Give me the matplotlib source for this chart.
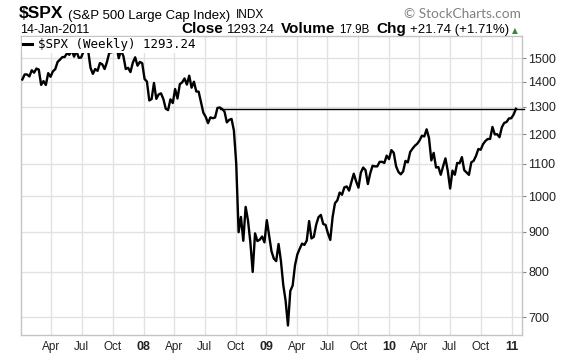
import matplotlib
matplotlib.use('Agg')
import matplotlib.pyplot as plt
import pandas as pd
from matplotlib.ticker import FixedLocator, NullLocator

# ---------------- data (weekly closes) ----------------
start_date = '2007-01-05'
close_2007 = [1409.7, 1430.7, 1430.5, 1422.2, 1448.4, 1438.1, 1455.5, 1451.2, 1387.2, 1402.8,
              1386.9, 1436.1, 1420.9, 1443.8, 1452.9, 1484.4, 1494.1, 1505.6, 1505.9, 1522.8,
              1515.7, 1536.3, 1507.7, 1532.9, 1502.6, 1503.4, 1530.4, 1552.5, 1534.1, 1458.9,
              1433.1, 1453.6, 1445.9, 1479.4, 1473.9, 1453.6, 1484.2, 1525.8, 1526.8, 1557.6,
              1561.8, 1500.6, 1535.3, 1509.7, 1453.7, 1458.7, 1440.7, 1481.1, 1504.7, 1467.9,
              1484.5, 1478.5]
close_2008 = [1411.6, 1401.0, 1325.2, 1330.6, 1395.4, 1331.3, 1349.0, 1353.1, 1330.6, 1293.4,
              1288.1, 1329.5, 1315.2, 1370.4, 1332.8, 1390.3, 1397.8, 1413.9, 1388.3, 1425.4,
              1375.9, 1400.4, 1360.7, 1360.0, 1317.9, 1278.4, 1262.9, 1239.5, 1260.7, 1257.8,
              1260.3, 1296.3, 1298.2, 1292.2, 1282.8, 1242.3, 1251.7, 1255.1, 1213.3, 1099.2,
              899.2, 940.6, 876.8, 968.8, 930.9, 873.3, 800.0, 896.2, 876.1, 879.7,
              887.9, 872.8]
close_2009 = [931.8, 890.4, 850.1, 832.0, 825.9, 868.6, 826.8, 770.1, 735.1, 683.4,
              756.6, 768.5, 815.9, 842.5, 856.6, 869.6, 866.2, 877.5, 929.2, 882.9,
              887.0, 919.1, 940.1, 946.2, 921.2, 918.9, 896.4, 879.1, 940.4, 979.3,
              987.5, 1010.5, 1004.1, 1026.1, 1028.9, 1016.4, 1042.7, 1068.3, 1044.4, 1025.2,
              1071.5, 1087.7, 1079.6, 1036.2, 1069.3, 1093.5, 1091.4, 1091.5, 1106.0, 1106.4,
              1102.5, 1126.5, 1115.1]
close_2010 = [1145.0, 1136.0, 1091.8, 1073.9, 1066.2, 1075.5, 1109.2, 1104.5, 1138.7, 1150.0,
              1159.9, 1166.6, 1178.1, 1194.4, 1192.1, 1217.3, 1186.7, 1110.9, 1135.7, 1087.7,
              1089.4, 1064.9, 1091.6, 1117.5, 1076.8, 1022.6, 1078.0, 1064.9, 1102.7, 1101.6,
              1121.6, 1079.3, 1071.7, 1064.6, 1104.5, 1109.6, 1125.6, 1148.7, 1146.2, 1165.2,
              1176.2, 1183.1, 1183.3, 1225.9, 1199.2, 1199.7, 1189.4, 1224.7, 1240.4, 1243.9,
              1256.8, 1257.6]
close_2011 = [1271.5, 1293.24]

last_close = 1293.24
resistance_start = '2008-08-15'

y_ticks = [700, 800, 900, 1000, 1100, 1200, 1300, 1400, 1500]
x_tick_dates = ['2007-04-01', '2007-07-01', '2007-10-01', '2008-01-01',
                '2008-04-01', '2008-07-01', '2008-10-01', '2009-01-01',
                '2009-04-01', '2009-07-01', '2009-10-01', '2010-01-01',
                '2010-04-01', '2010-07-01', '2010-10-01', '2011-01-01']
x_tick_labels = ['Apr', 'Jul', 'Oct', '08', 'Apr', 'Jul', 'Oct', '09',
                 'Apr', 'Jul', 'Oct', '10', 'Apr', 'Jul', 'Oct', '11']
year_labels = {'08', '09', '10', '11'}

# ---------------- figure ----------------
values = close_2007 + close_2008 + close_2009 + close_2010 + close_2011
dates = pd.date_range(start_date, periods=len(values), freq='7D')

W, H = 577, 357
fig = plt.figure(figsize=(W / 100, H / 100), dpi=100)
ax = fig.add_axes([21 / W, 1 - 335 / H, (522 - 21) / W, (335 - 36) / H])

ax.set_yscale('log')
ax.set_ylim(664.5, 1602)
ax.set_xlim(pd.Timestamp('2007-01-01'), pd.Timestamp('2011-02-01'))

ax.plot(dates, values, color='black', lw=1.7, solid_joinstyle='round', zorder=3,
        label=r'\$SPX (Weekly) 1293.24')
ax.plot([pd.Timestamp(resistance_start), pd.Timestamp('2011-02-06')],
        [last_close, last_close], color='black', lw=1.0, zorder=3, clip_on=False)

# axes styling
ax.yaxis.set_major_locator(FixedLocator(y_ticks))
ax.yaxis.set_minor_locator(NullLocator())
ax.set_yticklabels([str(v) for v in y_ticks])
ax.yaxis.tick_right()
ax.tick_params(axis='y', which='major', length=3, width=0.8, color='#888888',
               pad=1.5, labelsize=9, labelcolor='#222222')

ax.set_xticks([pd.Timestamp(d) for d in x_tick_dates])
ax.set_xticklabels(x_tick_labels)
ax.xaxis.set_minor_locator(NullLocator())
ax.tick_params(axis='x', length=0, pad=4, labelsize=8.5, labelcolor='#222222')
for lab in ax.get_xticklabels():
    lab.set_fontfamily('Liberation Sans')
    if lab.get_text() in year_labels:
        lab.set_fontweight('bold')
        lab.set_fontsize(9)
for lab in ax.get_yticklabels():
    lab.set_fontfamily('Liberation Sans')

ax.grid(True, color='#e2e2e2', lw=1.0, zorder=0)
ax.set_axisbelow(True)
for sp in ax.spines.values():
    sp.set_color('#c4c4c4')
    sp.set_linewidth(1.0)

leg = ax.legend(loc='upper left', handlelength=0.7, handletextpad=0.5,
                borderaxespad=0.05, borderpad=0.12, frameon=True, fancybox=False,
                facecolor='white', edgecolor='none', framealpha=1.0,
                prop={'family': 'DejaVu Sans Mono', 'size': 9})
for h in leg.get_lines():
    h.set_linewidth(2.2)

# ---------------- header texts (chained left to right) ----------------
renderer = fig.canvas.get_renderer()


def chain(xpx, ypx, pieces):
    """pieces: list of (text, kwargs, gap_after_px)"""
    x = xpx
    for s, kw, gap in pieces:
        kw = dict(kw)
        kw.setdefault('family', 'Liberation Sans')
        kw.setdefault('color', 'black')
        t = fig.text(x / W, 1 - ypx / H, s, ha='left', va='baseline', **kw)
        bb = t.get_window_extent(renderer)
        x = x + bb.width + gap
    return x


B = {'fontweight': 'bold'}
chain(19, 18.5, [
    (r'\$SPX', dict(B, fontsize=12.5), 4),
    ('(S&P 500 Large Cap Index)', dict(fontsize=9.5), 6),
    ('INDX', dict(fontsize=8.5), 0),
])
fig.text(521 / W, 1 - 17.5 / H, '\u00a9 StockCharts.com', ha='right', va='baseline',
         fontsize=9.8, color='#808080', family='Lato')

chain(20, 33, [('14-Jan-2011', dict(fontsize=9), 0)])
chain(181, 33, [
    ('Close', dict(B, fontsize=11), 4),
    ('1293.24', dict(fontsize=9.5), 6),
    ('Volume', dict(B, fontsize=11), 4),
    ('17.9B', dict(fontsize=8.4), 7),
    ('Chg', dict(B, fontsize=11), 4),
    ('+21.74 (+1.71%)', dict(fontsize=9.5), 3),
    ('\u25b2', dict(fontsize=5.5, color='#2e8b3a', family='DejaVu Sans'), 0),
])

fig.savefig('out.png', dpi=100)
